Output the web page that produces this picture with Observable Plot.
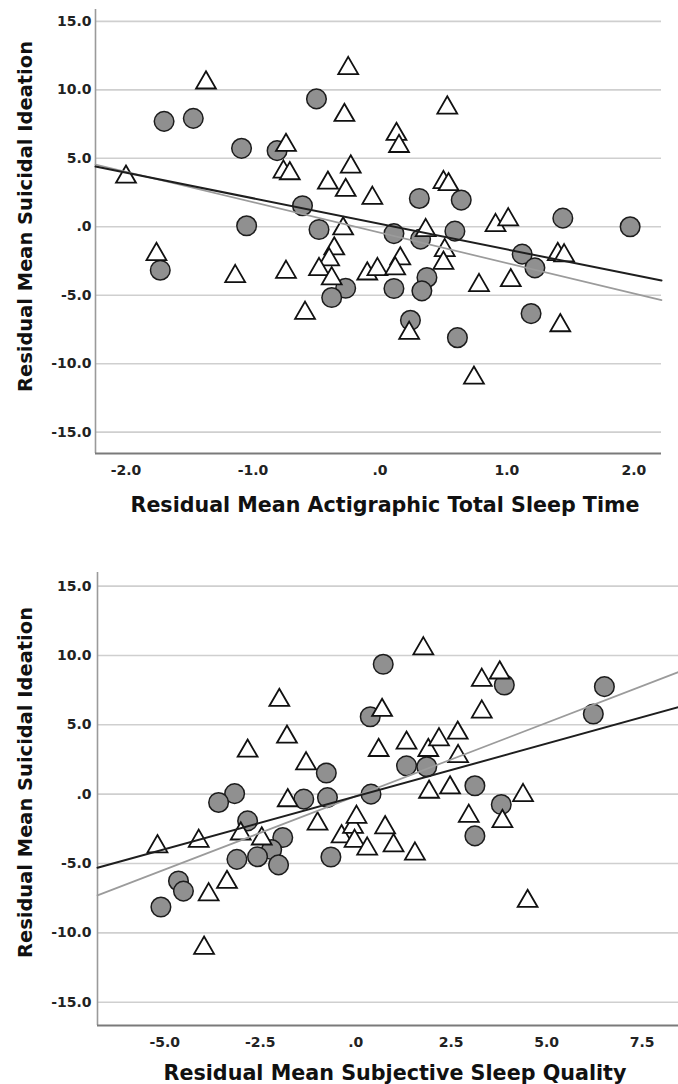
<!DOCTYPE html>
<html><head><meta charset="utf-8">
<script src="https://cdn.jsdelivr.net/npm/d3@7"></script>
<script src="https://cdn.jsdelivr.net/npm/@observablehq/plot@0.6"></script>
<style>body{margin:0;background:#fff;} #c{width:678px;} svg{display:block;overflow:visible;}</style>
</head><body><div id="c"></div>
<script>
// ---------- Top panel: Actigraphic Total Sleep Time ----------
const topXTitle = "Residual Mean Actigraphic Total Sleep Time";
const yTitle = "Residual Mean Suicidal Ideation";
const topXTicks = [-2, -1, 0, 1, 2];
const topXTickLabels = ["-2.0", "-1.0", ".0", "1.0", "2.0"];
const yTicks = [-15, -10, -5, 0, 5, 10, 15];
const yTickLabels = ["-15.0", "-10.0", "-5.0", ".0", "5.0", "10.0", "15.0"];
const topXDomain = [-2.24, 2.217];
const topYDomain = [-16.56, 15.87];

const topCircleX = [-1.70,-1.47,-0.50,-1.09,-0.81,-0.61,-1.05,-0.48,-1.73,-0.27,-0.38,0.31,0.64,0.11,0.32,0.59,0.37,0.11,0.33,0.24,0.61,1.12,1.22,1.19,1.44,1.97];
const topCircleY = [7.70,7.92,9.34,5.73,5.56,1.54,0.07,-0.20,-3.17,-4.49,-5.17,2.07,1.95,-0.50,-0.90,-0.32,-3.70,-4.51,-4.68,-6.83,-8.10,-2.00,-3.00,-6.34,0.63,0.00];
const topTriX = [-1.37,-0.25,-0.28,-0.74,-0.76,-0.71,-2.00,-0.23,-0.41,-0.27,-0.06,-0.29,0.53,0.13,0.15,0.50,0.54,0.91,1.01,0.36,-1.76,-1.14,-0.74,-0.36,-0.40,-0.48,-0.38,-0.59,-0.10,-0.02,0.16,0.12,0.51,0.50,1.40,1.45,0.78,1.03,1.42,0.23,0.74];
const topTriY = [10.73,11.78,8.36,6.17,4.22,4.10,3.85,4.59,3.41,2.88,2.30,0.07,8.90,6.97,6.09,3.45,3.30,0.31,0.73,-0.05,-1.80,-3.41,-3.10,-1.39,-2.19,-2.90,-3.58,-6.10,-3.22,-2.90,-2.12,-2.85,-1.51,-2.44,-1.80,-1.90,-4.07,-3.71,-7.00,-7.56,-10.83];
const topFitX = [-2.24, 2.217];
const topFitBlack = [4.40, -3.93];
const topFitGray = [4.55, -5.36];

// ---------- Bottom panel: Subjective Sleep Quality ----------
const botXTitle = "Residual Mean Subjective Sleep Quality";
const botXTicks = [-5, -2.5, 0, 2.5, 5, 7.5];
const botXTickLabels = ["-5.0", "-2.5", ".0", "2.5", "5.0", "7.5"];
const botXDomain = [-6.76, 8.45];
const botYDomain = [-16.68, 15.98];

const botCircleX = [0.72,0.38,3.89,6.51,6.22,1.33,1.86,-0.77,-3.17,-3.59,-1.36,-0.74,0.40,3.12,3.81,-2.83,-1.91,-2.20,-3.11,-2.57,-2.02,-0.65,3.12,-4.64,-4.51,-5.10];
const botCircleY = [9.36,5.58,7.87,7.75,5.78,2.04,1.97,1.52,0.04,-0.60,-0.36,-0.25,0.00,0.60,-0.75,-1.93,-3.13,-4.00,-4.70,-4.51,-5.10,-4.53,-3.01,-6.26,-6.99,-8.14];
const botTriX = [1.77,-2.00,0.69,3.30,3.77,3.30,-1.80,-2.83,0.60,-1.30,1.33,1.90,2.18,2.67,2.68,-1.78,1.92,2.47,4.38,2.96,3.84,-5.19,-4.11,-3.01,-2.46,-1.00,-0.37,-0.07,0.02,-0.03,0.30,0.77,0.99,1.55,4.50,-3.85,-3.37,-3.97];
const botTriY = [10.70,6.98,6.26,8.43,8.96,6.14,4.33,3.32,3.37,2.41,3.90,3.37,4.14,4.62,2.93,-0.25,0.36,0.67,0.12,-1.38,-1.75,-3.57,-3.18,-2.65,-3.01,-1.93,-2.85,-2.17,-1.45,-3.18,-3.74,-2.20,-3.50,-4.10,-7.51,-7.04,-6.14,-10.89];
const botFitX = [-6.76, 8.45];
const botFitBlack = [-5.31, 6.27];
const botFitGray = [-7.30, 8.80];

// Triangle symbol centred on its bounding box
const triSymbol = {draw(ctx, size) {
  const r = Math.sqrt(size / Math.PI);
  const w = 1.345 * r, h = 1.165 * r;
  ctx.moveTo(0, -h); ctx.lineTo(w, h); ctx.lineTo(-w, h); ctx.closePath();
}};

const zip = (xs, ys) => xs.map((x, i) => ({x, y: ys[i]}));

function panel(o) {
  const circles = zip(o.cx, o.cy);
  const tris = zip(o.tx, o.ty);
  const black = zip(o.fitX, o.fitBlack);
  const gray = zip(o.fitX, o.fitGray);
  const fmtX = d => o.xLabels[o.xTicks.indexOf(d)];
  const fmtY = d => yTickLabels[yTicks.indexOf(d)];
  const svg = Plot.plot({
    width: 678, height: o.height,
    marginLeft: o.ml, marginRight: o.mr, marginTop: o.mt, marginBottom: o.mb,
    style: {fontFamily: "DejaVu Sans", fontWeight: "bold", fontSize: "14px", color: "#222", background: "#fff"},
    x: {domain: o.xDomain},
    y: {domain: o.yDomain},
    marks: [
      Plot.gridY(yTicks, {stroke: "#cfcfcf", strokeOpacity: 1, strokeWidth: 1.6}),
      Plot.ruleX([o.xDomain[0]], {stroke: "#9a9a9a", strokeWidth: 1.6}),
      Plot.ruleY([o.yDomain[0]], {stroke: "#7a7a7a", strokeWidth: 1.8}),
      Plot.axisX({ticks: o.xTicks, tickFormat: fmtX, tickSize: 0, tickPadding: 12, fontSize: 14, fill: "#222", label: null}),
      Plot.axisY({ticks: yTicks, tickFormat: fmtY, tickSize: 0, tickPadding: o.ypad, fontSize: 14, fill: "#222", label: null}),
      Plot.dot(circles, {x: "x", y: "y", r: 9.8, fill: "#909090", stroke: "#1c1c1c", strokeWidth: 1.5}),
      Plot.dot(tris, {x: "x", y: "y", r: 7.4, symbol: triSymbol, fill: "#ffffff", stroke: "#111", strokeWidth: 1.8}),
      Plot.line(gray, {x: "x", y: "y", stroke: "#9b9b9b", strokeWidth: 1.7}),
      Plot.line(black, {x: "x", y: "y", stroke: "#1e1e1e", strokeWidth: 2}),
      Plot.text([o.xTitle], {text: d => d, frameAnchor: "bottom", textAnchor: "middle", lineAnchor: "middle", dx: o.xtdx, dy: o.xtdy, fontSize: 20.5, fontWeight: "bold", fill: "#111"}),
      Plot.text([yTitle], {text: d => d, frameAnchor: "left", textAnchor: "middle", lineAnchor: "middle", rotate: -90, dx: o.ytdx, dy: o.ytdy, fontSize: 19.5, fontWeight: "bold", fill: "#111"})
    ]
  });
  svg.querySelectorAll("text").forEach(t => {
    if (t.textContent === o.xTitle) { t.setAttribute("textLength", o.xtLen); t.setAttribute("lengthAdjust", "spacingAndGlyphs"); }
    if (t.textContent === yTitle) { t.setAttribute("textLength", 351); t.setAttribute("lengthAdjust", "spacingAndGlyphs"); }
  });
  return svg;
}

const c = document.getElementById("c");
c.appendChild(panel({
  height: 540, ml: 95, mr: 17, mt: 9, mb: 87, ypad: 4,
  xDomain: topXDomain, yDomain: topYDomain, xTicks: topXTicks, xLabels: topXTickLabels,
  cx: topCircleX, cy: topCircleY, tx: topTriX, ty: topTriY,
  fitX: topFitX, fitBlack: topFitBlack, fitGray: topFitGray,
  xTitle: topXTitle, xtdx: 6.5, xtdy: 51.5, xtLen: 509, ytdx: -70, ytdy: -15
}));
c.appendChild(panel({
  height: 544, ml: 97, mr: 0, mt: 32, mb: 59, ypad: 6,
  xDomain: botXDomain, yDomain: botYDomain, xTicks: botXTicks, xLabels: botXTickLabels,
  cx: botCircleX, cy: botCircleY, tx: botTriX, ty: botTriY,
  fitX: botFitX, fitBlack: botFitBlack, fitGray: botFitGray,
  xTitle: botXTitle, xtdx: 7, xtdy: 47.5, xtLen: 463, ytdx: -72, ytdy: -16.5
}));
</script>
</body></html>
